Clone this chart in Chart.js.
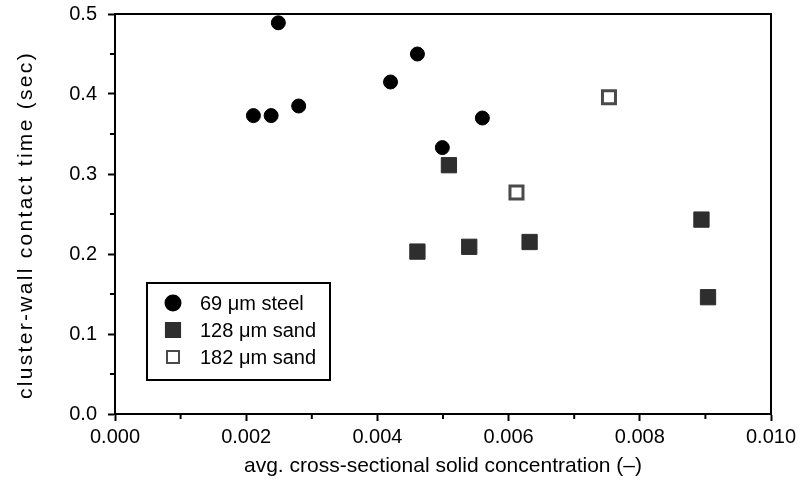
<!DOCTYPE html>
<html>
<head>
<meta charset="utf-8">
<script src="https://cdn.jsdelivr.net/npm/chart.js@4/dist/chart.umd.min.js"></script>
<style>
  html, body { margin: 0; padding: 0; background: #fff; }
  #wrap { width: 803px; height: 491px; }
</style>
</head>
<body>
<div id="wrap"><canvas id="chart"></canvas></div>
<script>
// values
const steelX = [0.00211, 0.00238, 0.00249, 0.00280, 0.00420, 0.00461, 0.00499, 0.00560];
const steelY = [0.373, 0.373, 0.489, 0.385, 0.415, 0.450, 0.333, 0.370];
const sand128X = [0.00461, 0.00509, 0.00540, 0.00632, 0.00894, 0.00904];
const sand128Y = [0.203, 0.311, 0.209, 0.215, 0.243, 0.146];
const sand182X = [0.00612, 0.00753];
const sand182Y = [0.277, 0.396];
const seriesNames = ['69 \u03bcm steel', '128 \u03bcm sand', '182 \u03bcm sand'];
const xTickLabels = ['0.000', '0.002', '0.004', '0.006', '0.008', '0.010'];
const yTickLabels = ['0.0', '0.1', '0.2', '0.3', '0.4', '0.5'];
const yTitle = 'cluster-wall contact time (sec)';

const toPoints = (xs, ys) => xs.map((x, i) => ({ x: x, y: ys[i] }));
const FONT = '"Liberation Sans", Arial, Helvetica, sans-serif';

Chart.defaults.font.family = FONT;
Chart.defaults.font.size = 20;
Chart.defaults.color = '#000';

// frame around the plot, short minor ticks, y title and the boxed legend
const framePlugin = {
  id: 'frame',
  afterDraw(chart) {
    const ctx = chart.ctx;
    const a = chart.chartArea;
    ctx.save();
    ctx.strokeStyle = '#000';
    ctx.lineWidth = 2;
    ctx.strokeRect(a.left, a.top, a.right - a.left, a.bottom - a.top);

    // minor ticks
    chart.scales.x.ticks.forEach((t, i) => {
      if (i % 2 === 1) {
        const px = chart.scales.x.getPixelForValue(t.value);
        ctx.beginPath();
        ctx.moveTo(px, a.bottom);
        ctx.lineTo(px, a.bottom + 5);
        ctx.stroke();
      }
    });
    chart.scales.y.ticks.forEach((t, i) => {
      if (i % 2 === 1) {
        const py = chart.scales.y.getPixelForValue(t.value);
        ctx.beginPath();
        ctx.moveTo(a.left, py);
        ctx.lineTo(a.left - 5, py);
        ctx.stroke();
      }
    });

    // y axis title, a little spaced out like the original
    ctx.save();
    ctx.translate(32, (a.top + a.bottom) / 2 + 11);
    ctx.rotate(-Math.PI / 2);
    ctx.font = '21px ' + FONT;
    ctx.letterSpacing = '2.3px';
    ctx.textAlign = 'center';
    ctx.textBaseline = 'alphabetic';
    ctx.fillStyle = '#000';
    ctx.fillText(yTitle, 0, 0);
    ctx.restore();

    // legend box
    const bx = a.left + 32, by = a.top + 269, bw = 183, bh = 97;
    ctx.fillStyle = '#fff';
    ctx.fillRect(bx, by, bw, bh);
    ctx.strokeRect(bx, by, bw, bh);
    ctx.textBaseline = 'middle';
    ctx.textAlign = 'left';
    ctx.font = '20px ' + FONT;
    chart.data.datasets.forEach((ds, i) => {
      const cy = by + 20 + i * 27;
      const cx = bx + 26;
      ctx.fillStyle = ds.backgroundColor;
      ctx.strokeStyle = ds.borderColor;
      Chart.helpers.drawPoint(ctx, {
        pointStyle: ds.pointStyle,
        radius: ds.legendRadius,
        borderWidth: ds.borderWidth,
        rotation: 0
      }, cx, cy);
      ctx.fillStyle = '#000';
      ctx.fillText(ds.label, bx + 53, cy + 1);
    });
    ctx.restore();
  }
};

new Chart(document.getElementById('chart'), {
  type: 'scatter',
  data: {
    datasets: [{
      label: seriesNames[0],
      data: toPoints(steelX, steelY),
      pointStyle: 'circle',
      radius: 7,
      legendRadius: 7.5,
      backgroundColor: '#000',
      borderColor: '#000',
      borderWidth: 1
    }, {
      label: seriesNames[1],
      data: toPoints(sand128X, sand128Y),
      pointStyle: 'rect',
      radius: 10.8,
      legendRadius: 10,
      backgroundColor: '#2e2e2e',
      borderColor: '#2e2e2e',
      borderWidth: 1
    }, {
      label: seriesNames[2],
      data: toPoints(sand182X, sand182Y),
      pointStyle: 'rect',
      radius: 9.2,
      legendRadius: 8.5,
      backgroundColor: '#fff',
      borderColor: '#4a4a4a',
      borderWidth: 3
    }]
  },
  options: {
    responsive: true,
    maintainAspectRatio: false,
    animation: false,
    events: [],
    layout: {
      padding: { left: 0, right: 32, top: 14, bottom: 0 }
    },
    plugins: {
      legend: { display: false },
      tooltip: { enabled: false }
    },
    scales: {
      x: {
        type: 'linear',
        min: 0,
        max: 0.01,
        afterFit(scale) {
          scale.height = 77;
          scale.paddingLeft = 0;
          scale.paddingRight = 0;
        },
        border: { display: true, color: '#000', width: 2 },
        grid: {
          drawOnChartArea: false,
          tickLength: 7,
          tickWidth: 2,
          tickColor: (c) => c.index % 2 === 0 ? '#000' : 'rgba(0,0,0,0)'
        },
        ticks: {
          stepSize: 0.001,
          autoSkip: false,
          maxRotation: 0,
          padding: 4,
          callback: (v, i) => i % 2 === 0 ? xTickLabels[i / 2] : ''
        },
        title: {
          display: true,
          text: 'avg. cross-sectional solid concentration (\u2013)',
          font: { size: 21 },
          padding: { top: 4, bottom: 12 }
        }
      },
      y: {
        type: 'linear',
        min: 0,
        max: 0.5,
        afterFit(scale) {
          scale.width = 115;
          scale.paddingTop = 0;
          scale.paddingBottom = 0;
        },
        border: { display: true, color: '#000', width: 2 },
        grid: {
          drawOnChartArea: false,
          tickLength: 7,
          tickWidth: 2,
          tickColor: (c) => c.index % 2 === 0 ? '#000' : 'rgba(0,0,0,0)'
        },
        ticks: {
          stepSize: 0.05,
          autoSkip: false,
          padding: 11,
          callback: (v, i) => i % 2 === 0 ? yTickLabels[i / 2] : ''
        },
        title: { display: false }
      }
    }
  },
  plugins: [framePlugin]
});
</script>
</body>
</html>
